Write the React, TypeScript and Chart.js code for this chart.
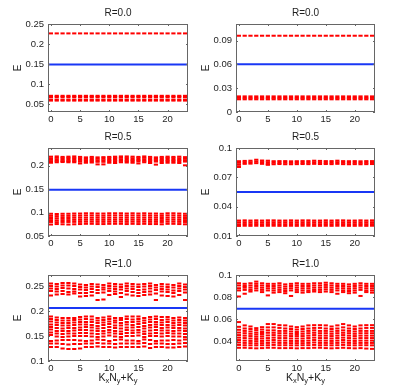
import React, { useEffect, useRef } from "react";
import { Chart, registerables } from "chart.js";
Chart.register(...registerables);

// ---------------- data ----------------
const K_INDEX = [0, 1, 2, 3, 4, 5, 6, 7, 8, 9, 10, 11, 12, 13, 14, 15, 16, 17, 18, 19, 20, 21, 22, 23];
const X_TICKS = [0, 5, 10, 15, 20];
const X_TICK_LABELS = ["0", "5", "10", "15", "20"];

// R=0.0, left
const R00L_HIGH = [0.2265, 0.2265, 0.2265, 0.2265, 0.2265, 0.2265, 0.2265, 0.2265, 0.2265, 0.2265, 0.2265, 0.2265, 0.2265, 0.2265, 0.2265, 0.2265, 0.2265, 0.2265, 0.2265, 0.2265, 0.2265, 0.2265, 0.2265, 0.2265];
const R00L_LOW1 = [0.0705, 0.0705, 0.0705, 0.0705, 0.0705, 0.0705, 0.0705, 0.0705, 0.0705, 0.0705, 0.0705, 0.0705, 0.0705, 0.0705, 0.0705, 0.0705, 0.0705, 0.0705, 0.0705, 0.0705, 0.0705, 0.0705, 0.0705, 0.0705];
const R00L_LOW2 = [0.0675, 0.0675, 0.0675, 0.0675, 0.0675, 0.0675, 0.0675, 0.0675, 0.0675, 0.0675, 0.0675, 0.0675, 0.0675, 0.0675, 0.0675, 0.0675, 0.0675, 0.0675, 0.0675, 0.0675, 0.0675, 0.0675, 0.0675, 0.0675];
const R00L_LOW3 = [0.0612, 0.0612, 0.0612, 0.0612, 0.0612, 0.0612, 0.0612, 0.0612, 0.0612, 0.0612, 0.0612, 0.0612, 0.0612, 0.0612, 0.0612, 0.0612, 0.0612, 0.0612, 0.0612, 0.0612, 0.0612, 0.0612, 0.0612, 0.0612];
const R00L_LOW4 = [0.0585, 0.0585, 0.0585, 0.0585, 0.0585, 0.0585, 0.0585, 0.0585, 0.0585, 0.0585, 0.0585, 0.0585, 0.0585, 0.0585, 0.0585, 0.0585, 0.0585, 0.0585, 0.0585, 0.0585, 0.0585, 0.0585, 0.0585, 0.0585];
const R00L_FERMI = 0.149;

// R=0.0, right
const R00R_HIGH = [0.0962, 0.0962, 0.0962, 0.0962, 0.0962, 0.0962, 0.0962, 0.0962, 0.0962, 0.0962, 0.0962, 0.0962, 0.0962, 0.0962, 0.0962, 0.0962, 0.0962, 0.0962, 0.0962, 0.0962, 0.0962, 0.0962, 0.0962, 0.0962];
const R00R_LOW1 = [0.0197, 0.0197, 0.0197, 0.0197, 0.0197, 0.0197, 0.0197, 0.0197, 0.0197, 0.0197, 0.0197, 0.0197, 0.0197, 0.0197, 0.0197, 0.0197, 0.0197, 0.0197, 0.0197, 0.0197, 0.0197, 0.0197, 0.0197, 0.0197];
const R00R_LOW2 = [0.0178, 0.0178, 0.0178, 0.0178, 0.0178, 0.0178, 0.0178, 0.0178, 0.0178, 0.0178, 0.0178, 0.0178, 0.0178, 0.0178, 0.0178, 0.0178, 0.0178, 0.0178, 0.0178, 0.0178, 0.0178, 0.0178, 0.0178, 0.0178];
const R00R_LOW3 = [0.0160, 0.0160, 0.0160, 0.0160, 0.0160, 0.0160, 0.0160, 0.0160, 0.0160, 0.0160, 0.0160, 0.0160, 0.0160, 0.0160, 0.0160, 0.0160, 0.0160, 0.0160, 0.0160, 0.0160, 0.0160, 0.0160, 0.0160, 0.0160];
const R00R_FERMI = 0.0603;

// R=0.5, left
const R05L_U1 = [0.2195, 0.2200, 0.2190, 0.2195, 0.2200, 0.2190, 0.2180, 0.2190, 0.2180, 0.2185, 0.2190, 0.2195, 0.2200, 0.2200, 0.2195, 0.2190, 0.2200, 0.2190, 0.2180, 0.2190, 0.2195, 0.2190, 0.2195, 0.2185];
const R05L_U2 = [0.2160, 0.2170, 0.2160, 0.2165, 0.2165, 0.2160, 0.2150, 0.2160, 0.2150, 0.2155, 0.2160, 0.2165, 0.2170, 0.2165, 0.2160, 0.2160, 0.2170, 0.2160, 0.2150, 0.2160, 0.2165, 0.2160, 0.2160, 0.2155];
const R05L_U3 = [0.2125, 0.2135, 0.2130, 0.2130, 0.2130, 0.2125, 0.2120, 0.2125, 0.2115, 0.2120, 0.2125, 0.2130, 0.2135, 0.2130, 0.2125, 0.2125, 0.2135, 0.2125, 0.2120, 0.2125, 0.2130, 0.2125, 0.2125, 0.2120];
const R05L_U4 = [0.2090, 0.2105, 0.2100, 0.2100, 0.2100, 0.2090, 0.2090, 0.2095, 0.2085, 0.2085, 0.2095, 0.2100, 0.2105, 0.2100, 0.2095, 0.2095, 0.2105, 0.2095, 0.2090, 0.2095, 0.2100, 0.2095, 0.2095, 0.2090];
const R05L_U5 = [0.2065, 0.2075, 0.2080, 0.2075, 0.2075, 0.2050, 0.2065, 0.2070, 0.2030, 0.2030, 0.2065, 0.2060, 0.2075, 0.2070, 0.2065, 0.2050, 0.2075, 0.2060, 0.2025, 0.2060, 0.2065, 0.2065, 0.2060, 0.2010];
const R05L_L1 = [0.0975, 0.0970, 0.0975, 0.0975, 0.0980, 0.0980, 0.0985, 0.0985, 0.0980, 0.0980, 0.0985, 0.0985, 0.0985, 0.0980, 0.0985, 0.0980, 0.0985, 0.0980, 0.0980, 0.0975, 0.0985, 0.0985, 0.0980, 0.0975];
const R05L_L2 = [0.0930, 0.0925, 0.0930, 0.0930, 0.0935, 0.0935, 0.0940, 0.0940, 0.0935, 0.0935, 0.0940, 0.0940, 0.0940, 0.0935, 0.0940, 0.0935, 0.0940, 0.0935, 0.0935, 0.0930, 0.0940, 0.0940, 0.0935, 0.0930];
const R05L_L3 = [0.0885, 0.0880, 0.0885, 0.0885, 0.0890, 0.0890, 0.0892, 0.0892, 0.0890, 0.0890, 0.0892, 0.0892, 0.0892, 0.0890, 0.0892, 0.0890, 0.0892, 0.0890, 0.0890, 0.0885, 0.0892, 0.0892, 0.0890, 0.0885];
const R05L_L4 = [0.0840, 0.0835, 0.0840, 0.0840, 0.0845, 0.0845, 0.0848, 0.0848, 0.0845, 0.0845, 0.0848, 0.0848, 0.0848, 0.0845, 0.0848, 0.0845, 0.0848, 0.0845, 0.0845, 0.0840, 0.0848, 0.0848, 0.0845, 0.0840];
const R05L_L5 = [0.0800, 0.0795, 0.0800, 0.0800, 0.0802, 0.0802, 0.0805, 0.0805, 0.0802, 0.0802, 0.0805, 0.0805, 0.0805, 0.0802, 0.0805, 0.0802, 0.0805, 0.0802, 0.0802, 0.0800, 0.0805, 0.0805, 0.0802, 0.0800];
const R05L_L6 = [0.0745, 0.0755, 0.0750, 0.0745, 0.0750, 0.0755, 0.0760, 0.0760, 0.0755, 0.0755, 0.0760, 0.0760, 0.0760, 0.0755, 0.0760, 0.0755, 0.0760, 0.0755, 0.0755, 0.0750, 0.0760, 0.0760, 0.0755, 0.0750];
const R05L_FERMI = 0.149;

// R=0.5, right
const R05R_U1 = [0.0865, 0.0868, 0.0870, 0.0880, 0.0872, 0.0870, 0.0865, 0.0866, 0.0866, 0.0864, 0.0865, 0.0866, 0.0866, 0.0870, 0.0868, 0.0866, 0.0866, 0.0870, 0.0866, 0.0865, 0.0866, 0.0864, 0.0866, 0.0866];
const R05R_U2 = [0.0848, 0.0852, 0.0854, 0.0862, 0.0856, 0.0854, 0.0850, 0.0850, 0.0850, 0.0849, 0.0850, 0.0850, 0.0850, 0.0854, 0.0852, 0.0850, 0.0850, 0.0854, 0.0850, 0.0849, 0.0850, 0.0849, 0.0850, 0.0850];
const R05R_U3 = [0.0828, 0.0838, 0.0840, 0.0845, 0.0838, 0.0836, 0.0834, 0.0836, 0.0834, 0.0834, 0.0835, 0.0836, 0.0835, 0.0838, 0.0836, 0.0836, 0.0835, 0.0838, 0.0835, 0.0834, 0.0835, 0.0834, 0.0835, 0.0836];
const R05R_U4 = [0.0806, null, null, null, null, 0.0828, null, null, null, null, null, null, null, null, null, null, null, null, null, null, null, null, null, null];
const R05R_L1 = [0.0258, 0.0260, 0.0258, 0.0260, 0.0258, 0.0260, 0.0260, 0.0258, 0.0258, 0.0260, 0.0258, 0.0260, 0.0260, 0.0258, 0.0258, 0.0260, 0.0258, 0.0260, 0.0260, 0.0258, 0.0258, 0.0260, 0.0258, 0.0260];
const R05R_L2 = [0.0240, 0.0241, 0.0240, 0.0241, 0.0240, 0.0241, 0.0241, 0.0240, 0.0240, 0.0241, 0.0240, 0.0241, 0.0241, 0.0240, 0.0240, 0.0241, 0.0240, 0.0241, 0.0241, 0.0240, 0.0240, 0.0241, 0.0240, 0.0241];
const R05R_L3 = [0.0220, 0.0222, 0.0221, 0.0222, 0.0221, 0.0222, 0.0222, 0.0221, 0.0221, 0.0222, 0.0221, 0.0222, 0.0222, 0.0221, 0.0221, 0.0222, 0.0221, 0.0222, 0.0222, 0.0221, 0.0221, 0.0222, 0.0221, 0.0222];
const R05R_L4 = [0.0203, 0.0205, 0.0204, 0.0205, 0.0204, 0.0205, 0.0205, 0.0204, 0.0204, 0.0205, 0.0204, 0.0205, 0.0205, 0.0204, 0.0204, 0.0205, 0.0204, 0.0205, 0.0205, 0.0204, 0.0204, 0.0205, 0.0204, 0.0205];
const R05R_FERMI = 0.055;

// R=1.0, left
const R10L_U1 = [0.255, 0.254, 0.256, 0.256, 0.255, 0.253, 0.252, 0.254, 0.253, 0.252, 0.255, 0.254, 0.253, 0.255, 0.254, 0.253, 0.254, 0.255, 0.252, 0.254, 0.253, 0.252, 0.255, 0.253];
const R10L_U2 = [0.250, 0.249, 0.251, 0.251, 0.250, 0.248, 0.247, 0.249, 0.248, 0.247, 0.250, 0.249, 0.248, 0.250, 0.249, 0.248, 0.249, 0.250, 0.247, 0.249, 0.248, 0.247, 0.250, 0.248];
const R10L_U3 = [0.245, 0.244, 0.246, 0.245, 0.244, 0.243, 0.242, 0.244, 0.242, 0.243, 0.245, 0.244, 0.243, 0.245, 0.244, 0.242, 0.243, 0.245, 0.242, 0.244, 0.243, 0.241, 0.245, 0.243];
const R10L_U4 = [0.240, 0.239, 0.240, 0.238, 0.239, 0.236, 0.236, 0.238, 0.236, 0.237, 0.240, 0.239, 0.236, 0.240, 0.238, 0.236, 0.238, 0.239, 0.235, 0.239, 0.238, 0.236, 0.240, 0.237];
const R10L_U5 = [0.231, 0.233, 0.234, 0.233, 0.235, 0.229, 0.230, 0.231, 0.222, 0.223, 0.232, 0.234, 0.228, 0.233, 0.231, 0.230, 0.232, 0.233, 0.222, 0.231, 0.230, 0.229, 0.232, 0.222];
const R10L_L1 = [0.189, 0.187, 0.186, 0.186, 0.186, 0.188, 0.189, 0.189, 0.186, 0.187, 0.189, 0.186, 0.186, 0.189, 0.189, 0.189, 0.186, 0.188, 0.189, 0.188, 0.188, 0.186, 0.187, 0.186];
const R10L_L2 = [0.184, 0.182, 0.181, 0.181, 0.182, 0.183, 0.184, 0.183, 0.181, 0.182, 0.184, 0.181, 0.182, 0.184, 0.183, 0.184, 0.181, 0.183, 0.184, 0.182, 0.183, 0.181, 0.182, 0.181];
const R10L_L3 = [0.179, 0.177, 0.176, 0.176, 0.177, 0.178, 0.178, 0.178, 0.176, 0.177, 0.179, 0.177, 0.176, 0.178, 0.178, 0.179, 0.176, 0.178, 0.178, 0.177, 0.178, 0.176, 0.177, 0.176];
const R10L_L4 = [0.173, 0.172, 0.171, 0.171, 0.172, 0.173, 0.173, 0.172, 0.170, 0.172, 0.174, 0.171, 0.171, 0.173, 0.172, 0.174, 0.170, 0.172, 0.173, 0.172, 0.172, 0.171, 0.172, 0.171];
const R10L_L5 = [0.168, 0.166, 0.165, 0.166, 0.166, 0.167, 0.168, 0.167, 0.165, 0.166, 0.168, 0.166, 0.165, 0.167, 0.167, 0.168, 0.165, 0.167, 0.168, 0.166, 0.167, 0.166, 0.166, 0.165];
const R10L_L6 = [0.163, 0.160, 0.160, 0.160, 0.161, 0.162, 0.162, 0.161, 0.160, 0.160, 0.162, 0.160, 0.159, 0.162, 0.161, 0.162, 0.159, 0.161, 0.162, 0.161, 0.161, 0.160, 0.161, 0.160];
const R10L_L7 = [0.157, 0.155, 0.154, 0.155, 0.155, 0.156, 0.156, 0.155, 0.154, 0.155, 0.157, 0.155, 0.154, 0.156, 0.156, 0.157, 0.154, 0.155, 0.156, 0.155, 0.156, 0.155, 0.155, 0.154];
const R10L_L8 = [0.152, 0.149, 0.148, 0.149, 0.150, 0.150, 0.150, 0.149, 0.148, 0.149, 0.151, 0.149, 0.148, 0.150, 0.150, 0.151, 0.148, 0.150, 0.150, 0.149, 0.150, 0.149, 0.149, 0.148];
const R10L_L9 = [0.140, 0.141, 0.142, 0.142, 0.142, 0.141, 0.140, 0.141, 0.143, 0.142, 0.140, 0.142, 0.143, 0.141, 0.141, 0.140, 0.143, 0.142, 0.140, 0.141, 0.141, 0.142, 0.141, 0.143];
const R10L_L10 = [0.135, 0.135, 0.134, 0.133, 0.134, 0.134, 0.135, 0.135, 0.136, 0.135, 0.135, 0.134, 0.135, 0.135, 0.135, 0.135, 0.136, 0.134, 0.135, 0.135, 0.134, 0.134, 0.135, 0.136];
const R10L_L11 = [0.128, 0.128, 0.125, 0.124, 0.124, 0.125, 0.128, 0.128, 0.129, 0.128, 0.128, 0.127, 0.128, 0.128, 0.128, 0.128, 0.129, 0.126, 0.128, 0.128, 0.127, 0.127, 0.128, 0.129];
const R10L_FERMI = 0.206;

// R=1.0, right
const R10R_U1 = [0.0925, 0.0920, 0.0925, 0.0940, 0.0925, 0.0920, 0.0920, 0.0925, 0.0915, 0.0920, 0.0925, 0.0920, 0.0920, 0.0925, 0.0925, 0.0930, 0.0925, 0.0920, 0.0920, 0.0915, 0.0920, 0.0925, 0.0920, 0.0920];
const R10R_U2 = [0.0905, 0.0900, 0.0905, 0.0920, 0.0905, 0.0900, 0.0900, 0.0905, 0.0895, 0.0900, 0.0905, 0.0900, 0.0900, 0.0905, 0.0905, 0.0910, 0.0905, 0.0900, 0.0900, 0.0895, 0.0900, 0.0905, 0.0900, 0.0900];
const R10R_U3 = [0.0880, 0.0885, 0.0885, 0.0900, 0.0885, 0.0880, 0.0880, 0.0885, 0.0875, 0.0880, 0.0885, 0.0880, 0.0880, 0.0885, 0.0885, 0.0890, 0.0885, 0.0880, 0.0880, 0.0875, 0.0880, 0.0885, 0.0880, 0.0880];
const R10R_U4 = [0.0860, 0.0865, 0.0865, 0.0880, 0.0865, 0.0860, 0.0860, 0.0865, 0.0855, 0.0860, 0.0865, 0.0860, 0.0860, 0.0865, 0.0865, 0.0870, 0.0865, 0.0860, 0.0860, 0.0855, 0.0860, 0.0865, 0.0860, 0.0860];
const R10R_U5 = [0.0805, 0.0830, 0.0850, 0.0860, 0.0845, 0.0815, 0.0840, 0.0845, 0.0835, 0.0810, 0.0845, 0.0840, 0.0845, 0.0850, 0.0845, 0.0850, 0.0845, 0.0830, 0.0845, 0.0835, 0.0840, 0.0810, 0.0845, 0.0840];
const R10R_L1 = [0.0573, 0.0543, 0.0533, 0.0518, 0.0527, 0.0555, 0.0555, 0.0545, 0.0543, 0.0533, 0.0527, 0.0533, 0.0543, 0.0545, 0.0545, 0.0543, 0.0533, 0.0543, 0.0555, 0.0543, 0.0533, 0.0543, 0.0545, 0.0545];
const R10R_L2 = [0.0530, 0.0515, 0.0510, 0.0500, 0.0505, 0.0525, 0.0525, 0.0520, 0.0515, 0.0510, 0.0505, 0.0510, 0.0515, 0.0520, 0.0520, 0.0515, 0.0510, 0.0515, 0.0525, 0.0515, 0.0510, 0.0515, 0.0520, 0.0520];
const R10R_L3 = [0.0503, 0.0493, 0.0488, 0.0478, 0.0483, 0.0498, 0.0498, 0.0493, 0.0493, 0.0488, 0.0483, 0.0488, 0.0493, 0.0498, 0.0493, 0.0493, 0.0488, 0.0493, 0.0498, 0.0493, 0.0488, 0.0493, 0.0493, 0.0493];
const R10R_L4 = [0.0478, 0.0472, 0.0467, 0.0460, 0.0465, 0.0476, 0.0476, 0.0472, 0.0472, 0.0467, 0.0465, 0.0467, 0.0472, 0.0476, 0.0472, 0.0472, 0.0467, 0.0472, 0.0476, 0.0472, 0.0467, 0.0472, 0.0472, 0.0472];
const R10R_L5 = [0.0455, 0.0450, 0.0446, 0.0440, 0.0444, 0.0452, 0.0455, 0.0450, 0.0450, 0.0446, 0.0446, 0.0446, 0.0450, 0.0455, 0.0450, 0.0450, 0.0446, 0.0450, 0.0455, 0.0450, 0.0446, 0.0450, 0.0450, 0.0450];
const R10R_L6 = [0.0432, 0.0428, 0.0424, 0.0420, 0.0424, 0.0428, 0.0432, 0.0428, 0.0428, 0.0424, 0.0424, 0.0424, 0.0428, 0.0432, 0.0428, 0.0428, 0.0424, 0.0428, 0.0432, 0.0428, 0.0424, 0.0428, 0.0428, 0.0428];
const R10R_L7 = [0.0410, 0.0405, 0.0402, 0.0400, 0.0402, 0.0406, 0.0410, 0.0405, 0.0405, 0.0402, 0.0402, 0.0402, 0.0405, 0.0410, 0.0405, 0.0405, 0.0402, 0.0405, 0.0410, 0.0405, 0.0402, 0.0405, 0.0405, 0.0405];
const R10R_L8 = [0.0388, 0.0384, 0.0382, 0.0380, 0.0382, 0.0384, 0.0388, 0.0384, 0.0384, 0.0382, 0.0382, 0.0382, 0.0384, 0.0388, 0.0384, 0.0384, 0.0382, 0.0384, 0.0388, 0.0384, 0.0382, 0.0384, 0.0384, 0.0384];
const R10R_L9 = [0.0366, 0.0363, 0.0362, 0.0362, 0.0363, 0.0363, 0.0366, 0.0363, 0.0363, 0.0362, 0.0362, 0.0363, 0.0363, 0.0366, 0.0363, 0.0363, 0.0362, 0.0363, 0.0366, 0.0363, 0.0362, 0.0363, 0.0363, 0.0362];
const R10R_L10 = [0.0340, 0.0340, 0.0337, 0.0335, 0.0337, 0.0340, 0.0340, 0.0337, 0.0337, 0.0337, 0.0335, 0.0337, 0.0337, 0.0340, 0.0340, 0.0337, 0.0335, 0.0337, 0.0340, 0.0337, 0.0335, 0.0337, 0.0333, 0.0330];
const R10R_FERMI = 0.0695;

// y axes
const Y_TICKS_00L = [0.05, 0.1, 0.15, 0.2, 0.25];
const Y_LABELS_00L = ["0.05", "0.1", "0.15", "0.2", "0.25"];
const Y_TICKS_00R = [0, 0.03, 0.06, 0.09];
const Y_LABELS_00R = ["0", "0.03", "0.06", "0.09"];
const Y_TICKS_05L = [0.05, 0.1, 0.15, 0.2];
const Y_LABELS_05L = ["0.05", "0.1", "0.15", "0.2"];
const Y_TICKS_05R = [0.01, 0.04, 0.07, 0.1];
const Y_LABELS_05R = ["0.01", "0.04", "0.07", "0.1"];
const Y_TICKS_10L = [0.1, 0.15, 0.2, 0.25];
const Y_LABELS_10L = ["0.1", "0.15", "0.2", "0.25"];
const Y_TICKS_10R = [0.04, 0.06, 0.08, 0.1];
const Y_LABELS_10R = ["0.04", "0.06", "0.08", "0.1"];

// ---------------- styling / layout ----------------
const FONT = '"Liberation Sans", Arial, Helvetica, sans-serif';
const RED = "rgb(255,0,0)";
const BLUE = "rgb(25,55,245)";
const TEXT = "#1e1e1e";
const FRAME = "#666";
const ML = 48; // room for y tick labels
const MT = 18; // room for title
const MR = 8;

type PanelCfg = {
  title: string;
  plotLeft: number;
  plotTop: number;
  plotW: number;
  plotH: number;
  bottomRoom: number;
  yMin: number;
  yMax: number;
  yTicks: number[];
  yLabels: string[];
  bands: (number | null)[][];
  fermi: number;
  xlabel: boolean;
};

const PANELS: PanelCfg[] = [
  { title: "R=0.0", plotLeft: 48, plotTop: 24, plotW: 140, plotH: 88, bottomRoom: 22, yMin: 0.03, yMax: 0.25, yTicks: Y_TICKS_00L, yLabels: Y_LABELS_00L, bands: [R00L_HIGH, R00L_LOW1, R00L_LOW2, R00L_LOW3, R00L_LOW4], fermi: R00L_FERMI, xlabel: false },
  { title: "R=0.0", plotLeft: 236, plotTop: 24, plotW: 139, plotH: 88, bottomRoom: 22, yMin: 0, yMax: 0.111, yTicks: Y_TICKS_00R, yLabels: Y_LABELS_00R, bands: [R00R_HIGH, R00R_LOW1, R00R_LOW2, R00R_LOW3], fermi: R00R_FERMI, xlabel: false },
  { title: "R=0.5", plotLeft: 48, plotTop: 148, plotW: 140, plotH: 88, bottomRoom: 22, yMin: 0.05, yMax: 0.238, yTicks: Y_TICKS_05L, yLabels: Y_LABELS_05L, bands: [R05L_U1, R05L_U2, R05L_U3, R05L_U4, R05L_U5, R05L_L1, R05L_L2, R05L_L3, R05L_L4, R05L_L5, R05L_L6], fermi: R05L_FERMI, xlabel: false },
  { title: "R=0.5", plotLeft: 236, plotTop: 148, plotW: 139, plotH: 88, bottomRoom: 22, yMin: 0.01, yMax: 0.1, yTicks: Y_TICKS_05R, yLabels: Y_LABELS_05R, bands: [R05R_U1, R05R_U2, R05R_U3, R05R_U4, R05R_L1, R05R_L2, R05R_L3, R05R_L4], fermi: R05R_FERMI, xlabel: false },
  { title: "R=1.0", plotLeft: 48, plotTop: 275, plotW: 140, plotH: 86, bottomRoom: 26, yMin: 0.1, yMax: 0.272, yTicks: Y_TICKS_10L, yLabels: Y_LABELS_10L, bands: [R10L_U1, R10L_U2, R10L_U3, R10L_U4, R10L_U5, R10L_L1, R10L_L2, R10L_L3, R10L_L4, R10L_L5, R10L_L6, R10L_L7, R10L_L8, R10L_L9, R10L_L10, R10L_L11], fermi: R10L_FERMI, xlabel: true },
  { title: "R=1.0", plotLeft: 236, plotTop: 275, plotW: 139, plotH: 86, bottomRoom: 26, yMin: 0.022, yMax: 0.1, yTicks: Y_TICKS_10R, yLabels: Y_LABELS_10R, bands: [R10R_U1, R10R_U2, R10R_U3, R10R_U4, R10R_U5, R10R_L1, R10R_L2, R10R_L3, R10R_L4, R10R_L5, R10R_L6, R10R_L7, R10R_L8, R10R_L9, R10R_L10], fermi: R10R_FERMI, xlabel: true },
];

function Panel({ cfg }: { cfg: PanelCfg }) {
  const ref = useRef<HTMLCanvasElement>(null);
  const W = ML + cfg.plotW + MR;
  const H = MT + cfg.plotH + cfg.bottomRoom;

  useEffect(() => {
    const canvas = ref.current;
    if (!canvas) return;

    const decor = {
      id: "decor",
      afterDraw(chart: any) {
        const { ctx, chartArea: a, scales } = chart;
        ctx.save();
        // frame
        ctx.strokeStyle = FRAME;
        ctx.lineWidth = 1;
        ctx.strokeRect(Math.round(a.left) + 0.5, Math.round(a.top) + 0.5, Math.round(a.right - a.left) - 1, Math.round(a.bottom - a.top) - 1);
        // inward ticks
        ctx.beginPath();
        const tl = 2;
        X_TICKS.forEach((v) => {
          const px = Math.round(scales.x.getPixelForValue(v)) + 0.5;
          ctx.moveTo(px, a.bottom);
          ctx.lineTo(px, a.bottom - tl);
          ctx.moveTo(px, a.top);
          ctx.lineTo(px, a.top + tl);
        });
        cfg.yTicks.forEach((v) => {
          const py = Math.round(scales.y.getPixelForValue(v)) + 0.5;
          ctx.moveTo(a.left, py);
          ctx.lineTo(a.left + tl, py);
          ctx.moveTo(a.right, py);
          ctx.lineTo(a.right - tl, py);
        });
        ctx.stroke();
        // title
        ctx.fillStyle = TEXT;
        ctx.font = `10px ${FONT}`;
        ctx.textAlign = "center";
        ctx.textBaseline = "middle";
        ctx.fillText(cfg.title, (a.left + a.right) / 2, a.top - 10.5);
        // y label
        ctx.save();
        ctx.translate(a.left - 30, (a.top + a.bottom) / 2);
        ctx.rotate(-Math.PI / 2);
        ctx.font = `10px ${FONT}`;
        ctx.textAlign = "center";
        ctx.textBaseline = "middle";
        ctx.fillText("E", 0, 0);
        ctx.restore();
        // x label
        if (cfg.xlabel) {
          const parts: [string, boolean][] = [["K", false], ["x", true], ["N", false], ["y", true], ["+K", false], ["y", true]];
          const mainF = `10.5px ${FONT}`;
          const subF = `7.5px ${FONT}`;
          let total = 0;
          parts.forEach(([t, s]) => {
            ctx.font = s ? subF : mainF;
            total += ctx.measureText(t).width;
          });
          let x = (a.left + a.right) / 2 - total / 2;
          const base = a.bottom + 19.5;
          ctx.textAlign = "left";
          ctx.textBaseline = "alphabetic";
          parts.forEach(([t, s]) => {
            ctx.font = s ? subF : mainF;
            ctx.fillText(t, x, s ? base + 2.5 : base);
            x += ctx.measureText(t).width;
          });
        }
        ctx.restore();
      },
    };

    const datasets: any[] = cfg.bands.map((band) => ({
      data: band.map((y, i) => ({ x: K_INDEX[i], y })),
      pointStyle: "line",
      pointRadius: 2.1,
      pointBorderWidth: 2,
      pointBorderColor: RED,
      pointBackgroundColor: RED,
      borderColor: RED,
      showLine: false,
    }));
    datasets.push({
      data: [
        { x: -0.5, y: cfg.fermi },
        { x: 23.5, y: cfg.fermi },
      ],
      showLine: true,
      borderColor: BLUE,
      borderWidth: 2,
      pointRadius: 0,
    });

    const chart = new Chart(canvas, {
      type: "scatter",
      data: { datasets },
      options: {
        animation: false,
        responsive: false,
        maintainAspectRatio: false,
        events: [],
        layout: { padding: { left: 0, top: MT, right: MR, bottom: 0 } },
        plugins: { legend: { display: false }, tooltip: { enabled: false }, title: { display: false } },
        scales: {
          x: {
            type: "linear",
            min: -0.5,
            max: 23.5,
            grid: { display: false, drawTicks: false },
            border: { display: false },
            afterFit: (s: any) => {
              s.height = cfg.bottomRoom;
            },
            afterBuildTicks: (s: any) => {
              s.ticks = X_TICKS.map((v) => ({ value: v }));
            },
            ticks: {
              padding: 2,
              maxRotation: 0,
              autoSkip: false,
              color: TEXT,
              font: { family: FONT, size: 9.5 },
              callback: (_v: any, i: number) => X_TICK_LABELS[i],
            },
          },
          y: {
            type: "linear",
            min: cfg.yMin,
            max: cfg.yMax,
            grid: { display: false, drawTicks: false },
            border: { display: false },
            afterFit: (s: any) => {
              s.width = ML;
            },
            afterBuildTicks: (s: any) => {
              s.ticks = cfg.yTicks.map((v) => ({ value: v }));
            },
            ticks: {
              padding: 4,
              autoSkip: false,
              color: TEXT,
              font: { family: FONT, size: 9.5 },
              callback: (_v: any, i: number) => cfg.yLabels[i],
            },
          },
        },
      },
      plugins: [decor],
    } as any);

    return () => chart.destroy();
  }, [cfg]);

  return (
    <canvas
      ref={ref}
      width={W}
      height={H}
      style={{ position: "absolute", left: cfg.plotLeft - ML, top: cfg.plotTop - MT, width: W, height: H }}
    />
  );
}

export default function App() {
  return (
    <div style={{ position: "absolute", left: 0, top: 0, width: 399, height: 387, background: "#fff", overflow: "hidden" }}>
      {PANELS.map((p, i) => (
        <Panel key={i} cfg={p} />
      ))}
    </div>
  );
}
